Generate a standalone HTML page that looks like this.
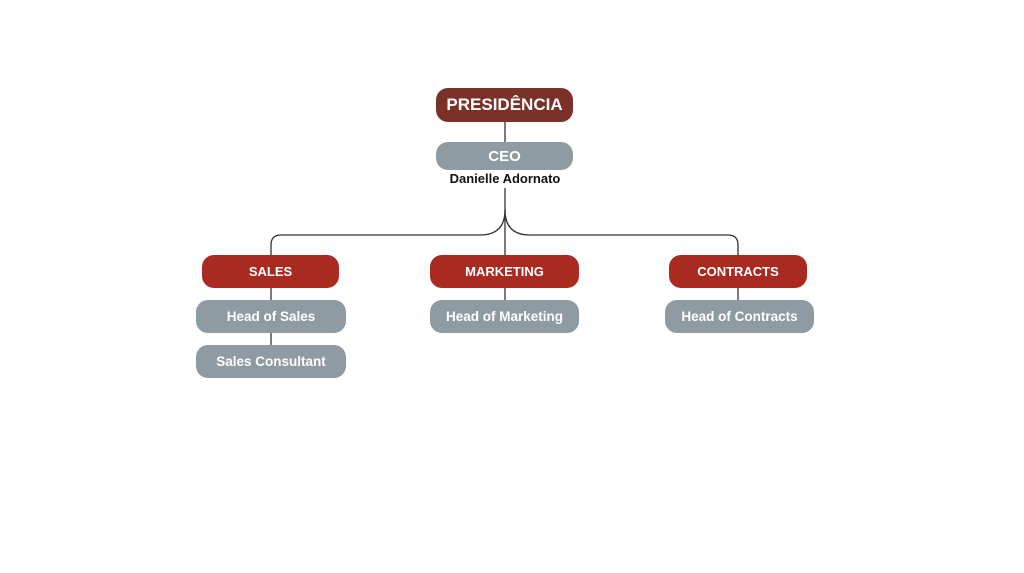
<!DOCTYPE html>
<html><head><style>
body{margin:0;width:1024px;height:573px;background:#fff;position:relative;overflow:hidden;font-family:"Liberation Sans",sans-serif}
.b{position:absolute;display:flex;align-items:center;justify-content:center;color:#fff;font-weight:bold;border-radius:12px}
.p{background:#7a3128;font-size:17px}
.r{background:#a82a21;font-size:13px}
.g{background:#8f9ba3;font-size:13.5px}
</style></head><body>
<svg width="1024" height="573" style="position:absolute;left:0;top:0" fill="none" stroke="#333" stroke-width="1.3">
<line x1="505" y1="122" x2="505" y2="142"/>
<path d="M505 188 V255"/>
<path d="M505 210 Q505 235 480 235 H281 Q271 235 271 245 V255"/>
<path d="M505 210 Q505 235 530 235 H728 Q738 235 738 245 V255"/>
<line x1="271" y1="288" x2="271" y2="300"/>
<line x1="271" y1="333" x2="271" y2="345"/>
<line x1="505" y1="288" x2="505" y2="300"/>
<line x1="738" y1="288" x2="738" y2="300"/>
</svg>
<div class="b p" style="left:436px;top:88px;width:137px;height:34px">PRESIDÊNCIA</div>
<div class="b g" style="left:436px;top:142px;width:137px;height:28px;font-size:15px">CEO</div>
<div style="position:absolute;left:405px;top:171px;width:200px;text-align:center;font-weight:bold;font-size:13px;color:#111">Danielle Adornato</div>
<div class="b r" style="left:202px;top:255px;width:137px;height:33px">SALES</div>
<div class="b r" style="left:430px;top:255px;width:149px;height:33px">MARKETING</div>
<div class="b r" style="left:669px;top:255px;width:138px;height:33px">CONTRACTS</div>
<div class="b g" style="left:196px;top:300px;width:150px;height:33px">Head of Sales</div>
<div class="b g" style="left:430px;top:300px;width:149px;height:33px">Head of Marketing</div>
<div class="b g" style="left:665px;top:300px;width:149px;height:33px">Head of Contracts</div>
<div class="b g" style="left:196px;top:345px;width:150px;height:33px">Sales Consultant</div>
</body></html>
